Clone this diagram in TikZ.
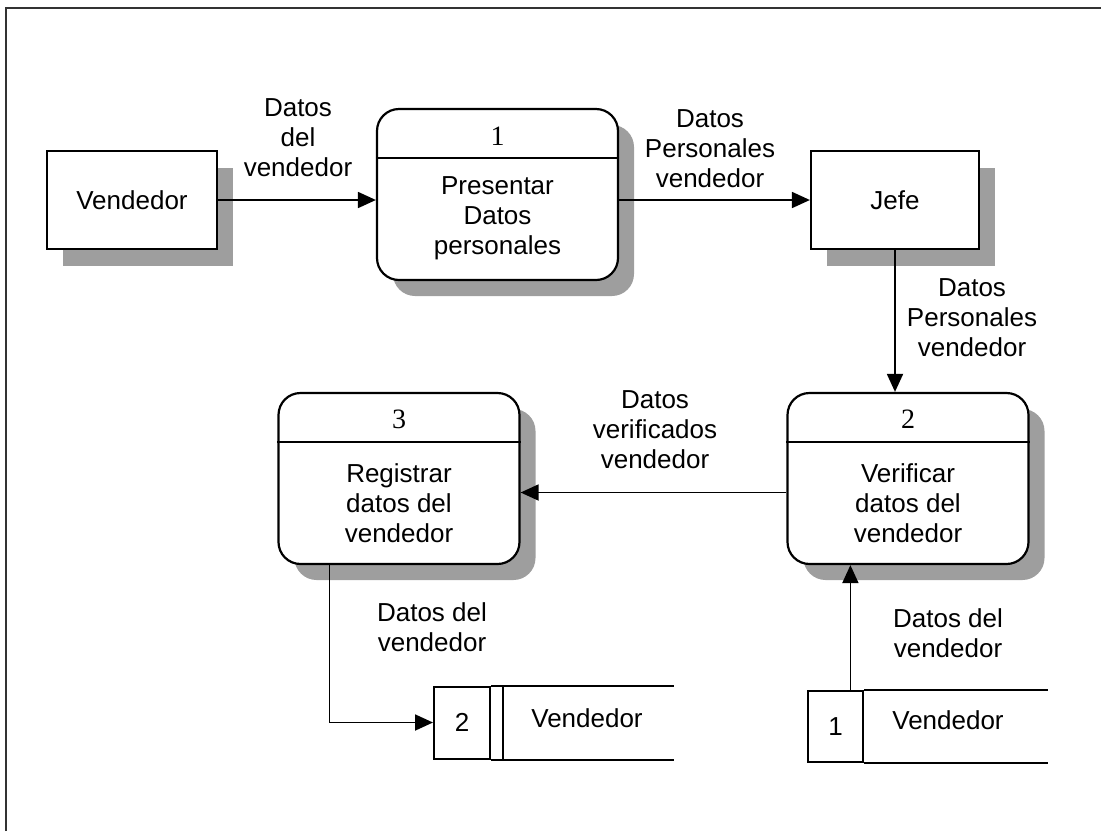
\documentclass[tikz,border=0pt]{standalone}
\usepackage{fontspec}
\setmainfont{Liberation Sans}
\newfontfamily\numfont{Liberation Serif}
\usetikzlibrary{arrows.meta,shadows}

\begin{document}
\begin{tikzpicture}[x=1pt, y=-1pt,
    entity/.style ={rectangle, draw, line width=2.2pt, fill=white,
      minimum width=170pt, minimum height=98pt,
      drop shadow={shadow xshift=16pt, shadow yshift=-17pt, fill=black!38, opacity=1},
      font=\fontsize{26}{30}\selectfont},
    process/.style ={rectangle, rounded corners=22pt, draw, line width=2.2pt, fill=white,
      minimum width=241pt, minimum height=171pt,
      drop shadow={shadow xshift=16pt, shadow yshift=-16pt, fill=black!38, opacity=1}},
    procnum/.style ={inner sep=0pt, font=\numfont\fontsize{28}{30}\selectfont},
    flowtext/.style ={align=center, inner sep=0pt, font=\fontsize{26}{30}\selectfont},
    storebox/.style ={rectangle, draw, line width=2pt, minimum width=56pt, minimum height=72pt,
      font=\fontsize{26}{30}\selectfont},
    flow/.style ={line width=1.8pt, -{Triangle[length=18pt,width=16pt]}}]
   \useasboundingbox (0,0) rectangle (1101,831);
   \draw[line width=2.6pt, black!80] (6,831) -- (6,8) -- (1101,8);

   % external entities
   \node[entity] (vend) at (132,200) {Vendedor};
   \node[entity, minimum width=168pt] (jefe) at (895,200) {Jefe};

   % processes
   \node[process] (p1) at (497.5,194.5) {};
   \node[process] (p2) at (908,478.5) {};
   \node[process] (p3) at (399,478.5) {};
   \draw[line width=2pt] ([yshift=-50pt]p1.north west) -- ([yshift=-50pt]p1.north east);
   \draw[line width=2pt] ([yshift=-50pt]p2.north west) -- ([yshift=-50pt]p2.north east);
   \draw[line width=2pt] ([yshift=-50pt]p3.north west) -- ([yshift=-50pt]p3.north east);
   \node[procnum] (p1n) at (497.5,136) {1};
   \node[procnum] (p2n) at (908,419) {2};
   \node[procnum] (p3n) at (399,419) {3};
   \node[flowtext] (p1t) at (497.5,218) {Presentar\\Datos\\personales};
   \node[flowtext] (p2t) at (908,503) {Verificar\\datos del\\vendedor};
   \node[flowtext] (p3t) at (399,503) {Registrar\\datos del\\vendedor};

   % data stores
   \node[storebox] (s2) at (462,722.5) {2};
   \node[storebox, minimum width=55pt, minimum height=71pt] (s1) at (835.5,726.5) {1};
   \draw[line width=2pt] ([xshift=12pt]s2.north east) -- ([xshift=12pt]s2.south east);
   \draw[line width=2pt] (s2.north east) -- ([xshift=183pt]s2.north east);
   \draw[line width=2pt] (s2.south east) -- ([xshift=183pt]s2.south east);
   \draw[line width=2pt] (s1.north east) -- ([xshift=184pt]s1.north east);
   \draw[line width=2pt] (s1.south east) -- ([xshift=184pt]s1.south east);
   \node[flowtext] (s2t) at (587,718) {Vendedor};
   \node[flowtext] (s1t) at (948,720) {Vendedor};

   % flows
   \coordinate (in2) at ([xshift=64pt]p2.south west);
   \coordinate (out3) at ([xshift=52pt]p3.south west);
   \draw[flow] (vend.east) to (vend.east -| p1.west);
   \draw[flow] (p1.east |- jefe.west) to (jefe.west);
   \draw[flow] (jefe.south) to (jefe.south |- p2.north);
   \draw[flow] ([yshift=-14pt]p2.west) to ([yshift=-14pt]p2.west -| p3.east);
   \draw[flow] (out3) |- (s2.west);
   \draw[flow] (s1.north -| in2) to (in2);

   % flow labels
   \node[flowtext] (l1) at (298,138) {Datos\\del\\vendedor};
   \node[flowtext] (l2) at (710,149) {Datos\\Personales\\vendedor};
   \node[flowtext] (l3) at (972,318) {Datos\\Personales\\vendedor};
   \node[flowtext] (l4) at (655,430) {Datos\\verificados\\vendedor};
   \node[flowtext] (l5) at (432,627) {Datos del\\vendedor};
   \node[flowtext] (l6) at (948,633) {Datos del\\vendedor};

 \end{tikzpicture}
\end{document}
